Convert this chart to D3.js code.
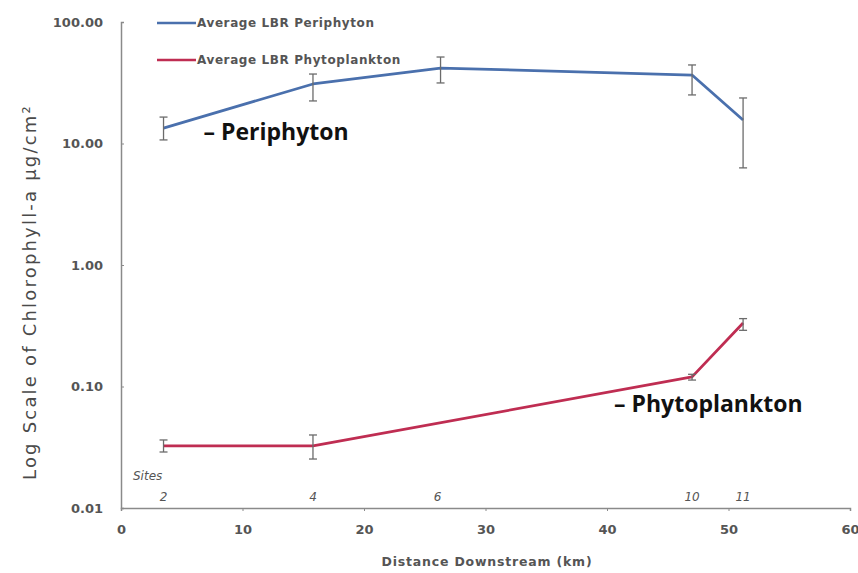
<!DOCTYPE html>
<html>
<head>
<meta charset="utf-8">
<script src="https://cdn.jsdelivr.net/npm/d3@7"></script>
<style>
  html, body { margin: 0; padding: 0; background: #fff; }
  svg { display: block; }
</style>
</head>
<body>
<svg id="chart" width="858" height="573"></svg>
<script>
// Distance downstream (km) of each sampling site
const periKm   = [3.5, 15.8, 26.3, 47.0, 51.2];
const periMean = [13.4, 30.9, 41.8, 36.6, 15.6];
const periLow  = [10.7, 22.4, 31.5, 25.1, 6.3];
const periHigh = [16.5, 37.3, 51.5, 44.3, 23.7];

const phytoKm   = [3.5, 15.8, 47.0, 51.2];
const phytoMean = [0.0324, 0.0324, 0.120, 0.333];
const phytoLow  = [0.0289, 0.0253, 0.113, 0.290];
const phytoHigh = [0.0363, 0.0399, 0.126, 0.362];

const siteKm     = [3.5, 15.8, 26.3, 47.0, 51.2];
const siteLabels = ["2", "4", "6", "10", "11"];

const yTicks = [0.01, 0.1, 1, 10, 100];
const xTicks = [0, 10, 20, 30, 40, 50, 60];

const seriesNames = ["Average LBR Periphyton", "Average LBR Phytoplankton"];
const seriesColors = ["#4a70ad", "#bf2d52"];

const svg = d3.select("#chart");
const plotLeft = 121, plotRight = 850, plotTop = 22, plotBottom = 508;

const x = d3.scaleLinear().domain([0, 60]).range([plotLeft, plotRight]);
const y = d3.scaleLog().domain([0.01, 100]).range([plotBottom, plotTop]);

const axisColor = "#8a8a8a";
const textColor = "#555";
const labelFont = "'DejaVu Sans', sans-serif";

// Y axis
const yAxis = svg.append("g")
  .attr("transform", `translate(${plotLeft},0)`)
  .call(d3.axisLeft(y).tickValues(yTicks).tickFormat(d3.format(".2f")).tickSize(-3).tickPadding(18));
yAxis.select(".domain").attr("stroke", axisColor).attr("stroke-width", 1.5);
yAxis.selectAll(".tick line").attr("stroke", axisColor);
yAxis.selectAll("text")
  .attr("fill", textColor)
  .style("font-family", labelFont)
  .style("font-size", "13px")
  .style("font-weight", "700");

// X axis
const xAxis = svg.append("g")
  .attr("transform", `translate(0,${plotBottom})`)
  .call(d3.axisBottom(x).tickValues(xTicks).tickSize(3).tickPadding(14));
xAxis.select(".domain").attr("stroke", axisColor).attr("stroke-width", 1.5);
xAxis.selectAll(".tick line").attr("stroke", axisColor);
xAxis.selectAll("text")
  .attr("fill", textColor)
  .style("font-family", labelFont)
  .style("font-size", "13px")
  .style("font-weight", "700");

// Axis titles
svg.append("text")
  .attr("transform", `translate(36,292) rotate(-90)`)
  .attr("text-anchor", "middle")
  .attr("fill", "#4a4a4a")
  .style("font-family", labelFont)
  .style("font-size", "18px")
  .style("letter-spacing", "2.2px")
  .text("Log Scale of Chlorophyll-a \u00b5g/cm\u00b2");

svg.append("text")
  .attr("x", 487)
  .attr("y", 566)
  .attr("text-anchor", "middle")
  .attr("fill", textColor)
  .style("font-family", labelFont)
  .style("font-size", "12.5px")
  .style("font-weight", "700")
  .style("letter-spacing", "0.8px")
  .text("Distance Downstream (km)");

// Site numbers along the bottom of the plot
svg.append("text")
  .attr("x", x(0) + 12)
  .attr("y", 480)
  .attr("fill", textColor)
  .style("font-family", labelFont)
  .style("font-size", "12px")
  .style("font-style", "italic")
  .text("Sites");

svg.selectAll(".site")
  .data(siteKm)
  .enter().append("text")
  .attr("class", "site")
  .attr("x", (d, i) => x(d) + (i === 2 ? -3 : 0))
  .attr("y", 501)
  .attr("text-anchor", "middle")
  .attr("fill", textColor)
  .style("font-family", labelFont)
  .style("font-size", "12px")
  .style("font-style", "italic")
  .text((d, i) => siteLabels[i]);

// Series
function drawSeries(km, mean, lo, hi, color) {
  const pts = km.map((d, i) => ({ x: d, m: mean[i], lo: lo[i], hi: hi[i] }));
  const line = d3.line().x(d => x(d.x)).y(d => y(d.m));
  svg.append("path")
    .datum(pts)
    .attr("d", line)
    .attr("fill", "none")
    .attr("stroke", color)
    .attr("stroke-width", 2.8)
    .attr("stroke-linejoin", "round");

  const eb = svg.append("g").attr("stroke", "#6b6b6b").attr("stroke-width", 1.3);
  pts.forEach(p => {
    eb.append("line").attr("x1", x(p.x)).attr("x2", x(p.x)).attr("y1", y(p.hi)).attr("y2", y(p.lo));
    eb.append("line").attr("x1", x(p.x) - 4).attr("x2", x(p.x) + 4).attr("y1", y(p.hi)).attr("y2", y(p.hi));
    eb.append("line").attr("x1", x(p.x) - 4).attr("x2", x(p.x) + 4).attr("y1", y(p.lo)).attr("y2", y(p.lo));
  });
}
drawSeries(periKm, periMean, periLow, periHigh, seriesColors[0]);
drawSeries(phytoKm, phytoMean, phytoLow, phytoHigh, seriesColors[1]);

// Legend
const legend = svg.append("g");
seriesNames.forEach((name, i) => {
  const ly = 23 + i * 37;
  legend.append("line")
    .attr("x1", 157).attr("x2", 196)
    .attr("y1", ly).attr("y2", ly)
    .attr("stroke", seriesColors[i]).attr("stroke-width", 2.5);
  legend.append("text")
    .attr("x", 197).attr("y", ly + 4)
    .attr("fill", textColor)
    .style("font-family", labelFont)
    .style("font-size", "12px")
    .style("font-weight", "700")
    .style("letter-spacing", "0.6px")
    .text(name);
});

// Series annotations
const notes = [
  { text: "\u2013 Periphyton", km: periKm[0], v: periMean[0], dx: 40, dy: 12 },
  { text: "\u2013 Phytoplankton", km: phytoKm[2], v: phytoMean[2], dx: -78, dy: 35 }
];
svg.selectAll(".note")
  .data(notes)
  .enter().append("text")
  .attr("class", "note")
  .attr("x", d => x(d.km) + d.dx)
  .attr("y", d => y(d.v) + d.dy)
  .attr("fill", "#111")
  .style("font-family", "'Open Sans', sans-serif")
  .style("font-size", "23px")
  .style("font-weight", "700")
  .text(d => d.text);
</script>
</body>
</html>
